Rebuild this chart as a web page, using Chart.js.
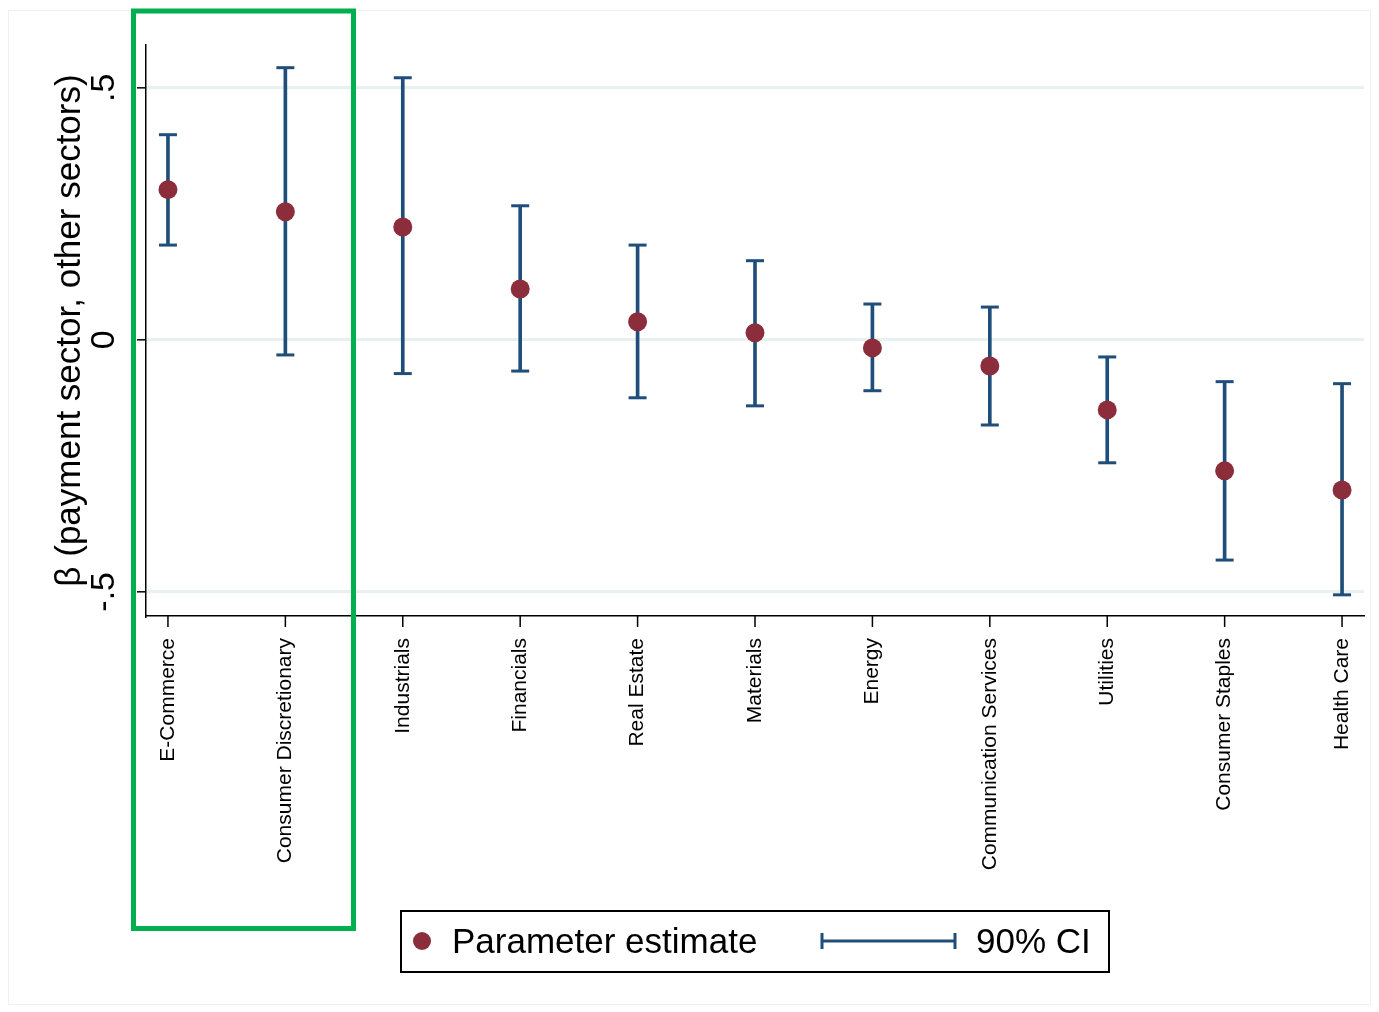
<!DOCTYPE html>
<html>
<head>
<meta charset="utf-8">
<script src="https://cdn.jsdelivr.net/npm/chart.js@4.4.1/dist/chart.umd.min.js"></script>
<style>
html, body { margin: 0; background: #fff; }
</style>
</head>
<body>
<canvas id="chart" width="1379" height="1012"></canvas>
<script>
const sectors = ['E-Commerce', 'Consumer Discretionary', 'Industrials', 'Financials', 'Real Estate',
    'Materials', 'Energy', 'Communication Services', 'Utilities', 'Consumer Staples', 'Health Care'];
const estimates = [0.298, 0.254, 0.224, 0.101, 0.036, 0.014, -0.016, -0.052, -0.139, -0.260, -0.298];
const ciLow = [0.188, -0.030, -0.067, -0.062, -0.115, -0.131, -0.101, -0.169, -0.244, -0.437, -0.506];
const ciHigh = [0.407, 0.540, 0.520, 0.266, 0.188, 0.157, 0.071, 0.065, -0.034, -0.083, -0.087];
const yTicks = [-0.5, 0, 0.5];
const yTickLabels = ['-.5', '0', '.5'];
const yTitle = 'β (payment sector, other sectors)';
const legendLabels = ['Parameter estimate', '90% CI'];

const maroon = '#8c2d3b';
const navy = '#1f4e7a';
const font = '"Liberation Sans", Arial, sans-serif';

// axis ticks, labels, legend and highlight box
const extras = {
    id: 'extras',
    afterDraw(chart) {
        const ctx = chart.ctx;
        const xs = chart.scales.x;
        const ys = chart.scales.y;
        const area = chart.chartArea;
        ctx.save();

        // faint outer frame
        ctx.strokeStyle = '#f0f0f0';
        ctx.lineWidth = 1;
        ctx.strokeRect(8.5, 10.5, 1362, 994);

        ctx.strokeStyle = '#000';
        ctx.fillStyle = '#000';
        ctx.lineWidth = 1.5;

        // y ticks + labels
        ctx.font = '34px ' + font;
        yTicks.forEach((v, i) => {
            const y = ys.getPixelForValue(v);
            ctx.beginPath();
            ctx.moveTo(area.left - 9, y);
            ctx.lineTo(area.left, y);
            ctx.stroke();
            ctx.save();
            ctx.translate(105, y);
            ctx.rotate(-Math.PI / 2);
            ctx.textAlign = 'center';
            ctx.textBaseline = 'middle';
            ctx.fillText(yTickLabels[i], 0, 0);
            ctx.restore();
        });

        // y title
        ctx.save();
        ctx.font = '35px ' + font;
        ctx.translate(70, (area.top + area.bottom) / 2);
        ctx.rotate(-Math.PI / 2);
        ctx.textAlign = 'center';
        ctx.textBaseline = 'middle';
        ctx.fillText(yTitle, 0, 0);
        ctx.restore();

        // x ticks + labels
        ctx.font = '21px ' + font;
        sectors.forEach((s, i) => {
            const x = xs.getPixelForValue(i);
            ctx.beginPath();
            ctx.moveTo(x, area.bottom);
            ctx.lineTo(x, area.bottom + 11);
            ctx.stroke();
            ctx.save();
            ctx.translate(x, area.bottom + 22);
            ctx.rotate(-Math.PI / 2);
            ctx.textAlign = 'right';
            ctx.textBaseline = 'middle';
            ctx.fillText(s, 0, 0);
            ctx.restore();
        });

        // legend
        ctx.lineWidth = 2;
        ctx.strokeRect(401, 911, 708, 61);
        ctx.fillStyle = maroon;
        ctx.beginPath();
        ctx.arc(422, 941, 9, 0, Math.PI * 2);
        ctx.fill();
        ctx.strokeStyle = navy;
        ctx.lineWidth = 3;
        ctx.beginPath();
        ctx.moveTo(822, 941); ctx.lineTo(955, 941);
        ctx.moveTo(822, 933); ctx.lineTo(822, 949);
        ctx.moveTo(955, 933); ctx.lineTo(955, 949);
        ctx.stroke();
        ctx.fillStyle = '#000';
        ctx.font = '35px ' + font;
        ctx.textAlign = 'left';
        ctx.textBaseline = 'middle';
        ctx.fillText(legendLabels[0], 452, 943);
        ctx.fillText(legendLabels[1], 976, 943);

        // green highlight box
        ctx.strokeStyle = '#00b050';
        ctx.lineWidth = 5;
        ctx.strokeRect(133.5, 11, 220, 917.5);

        ctx.restore();
    }
};

const grafico = document.getElementById('chart');
const chart = new Chart(grafico, {
    type: 'bar',
    data: {
        datasets: [{
            type: 'scatter',
            label: legendLabels[0],
            data: sectors.map((s, i) => ({ x: i, y: estimates[i] })),
            pointStyle: 'circle',
            pointRadius: 9.5,
            backgroundColor: maroon,
            borderWidth: 0,
            order: 0
        }, {
            type: 'scatter',
            label: 'caps',
            data: sectors.flatMap((s, i) => [{ x: i, y: ciLow[i] }, { x: i, y: ciHigh[i] }]),
            pointStyle: 'line',
            pointRadius: 9,
            borderColor: navy,
            borderWidth: 3,
            order: 1
        }, {
            type: 'bar',
            label: legendLabels[1],
            data: sectors.map((s, i) => ({ x: i, y: [ciLow[i], ciHigh[i]] })),
            backgroundColor: navy,
            barThickness: 3,
            grouped: false,
            order: 2
        }]
    },
    options: {
        responsive: false,
        animation: false,
        devicePixelRatio: 1,
        layout: { padding: { left: 146, right: 15, top: 45, bottom: 396 } },
        plugins: {
            legend: { display: false },
            tooltip: { enabled: false }
        },
        scales: {
            x: {
                type: 'linear',
                offset: false,
                min: -0.187,
                max: 10.187,
                ticks: { display: false },
                grid: { display: false, offset: false },
                border: { display: true, color: '#000', width: 1.5 },
                afterFit: s => { s.height = 0; }
            },
            y: {
                type: 'linear',
                min: -0.548,
                max: 0.585,
                afterBuildTicks: s => { s.ticks = yTicks.map(v => ({ value: v })); },
                ticks: { display: false },
                grid: { color: '#e8f0f0', lineWidth: 3, drawTicks: false },
                border: { display: true, color: '#000', width: 1.5 },
                afterFit: s => { s.width = 0; }
            }
        }
    },
    plugins: [extras]
});
</script>
</body>
</html>
